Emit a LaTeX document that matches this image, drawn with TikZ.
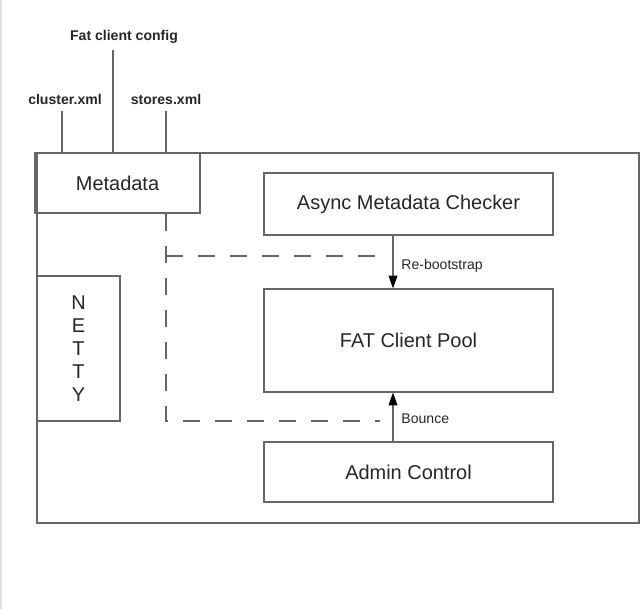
\documentclass[tikz,border=0pt]{standalone}
\usepackage{fontspec}
\setmainfont{Liberation Sans}
\usetikzlibrary{positioning, arrows.meta, calc}

\begin{document}
\begin{tikzpicture}[
    >={Triangle[length=0.32cm, width=0.22cm, color=black, fill=black]},
    every node/.style={text=black!85},
    compbox/.style={draw=black!60, line width=0.8pt, rectangle, inner sep=0pt, align=center, font=\fontsize{14.2}{16.4}\selectfont},
    cfgtxt/.style={align=center, font=\fontsize{10}{12}\selectfont\bfseries},
    lbltxt/.style={font=\fontsize{10}{12}\selectfont},
    wire/.style={draw=black!60, line width=0.8pt},
    ctrlarrow/.style={->, draw=black!60, line width=0.8pt},
    dasharrow/.style={draw=black!60, line width=0.8pt, dash pattern=on 0.425cm off 0.375cm}
]

% fixed page frame
\useasboundingbox (0, 0) rectangle (16, -15.225);
\draw[gray!25, line width=1.5pt] (0.03, 0) -- (0.03, -15.225);

% outer frame
\draw[wire] (0.925, -3.825) rectangle (15.975, -13.075);

% Metadata & config inputs
\node[compbox, minimum width=4.125cm, minimum height=1.5cm] (Meta) at (2.9375, -4.575) {Metadata};
\node[cfgtxt] (fatcfg) at (3.1, -0.925) {Fat client config};
\node[cfgtxt] (clusterxml) at (1.625, -2.475) {cluster.xml};
\node[cfgtxt] (storesxml) at (4.15, -2.475) {stores.xml};
\coordinate (fatx) at (2.825, -1.25);
\coordinate (clux) at (1.55, -2.775);
\coordinate (stox) at (4.15, -2.775);
\draw[wire] (fatx) -- (Meta.north -| fatx);
\draw[wire] (clux) -- (Meta.north -| clux);
\draw[wire] (stox) -- (Meta.north -| stox);

% NETTY
\node[compbox, minimum width=2.075cm, minimum height=3.625cm] (Netty) at (1.9625, -8.7125) {N\\E\\T\\T\\Y};

% Checker, pool & admin
\node[compbox, minimum width=7.225cm, minimum height=1.55cm] (Checker) at (10.2125, -5.1) {Async Metadata Checker};
\node[compbox, minimum width=7.225cm, minimum height=2.575cm] (Pool) at (10.2125, -8.5125) {FAT Client Pool};
\node[compbox, minimum width=7.225cm, minimum height=1.5cm] (Admin) at (10.2125, -11.8) {Admin Control};

\coordinate (arrx) at (9.825, 0);
\draw[ctrlarrow] (Checker.south -| arrx) -- node[midway, right=0.08cm, yshift=-0.1cm, lbltxt] {Re-bootstrap} (Pool.north -| arrx);
\draw[ctrlarrow] (Admin.north -| arrx) -- node[midway, right=0.08cm, yshift=-0.05cm, lbltxt] {Bounce} (Pool.south -| arrx);

% metadata feed (dashed)
\coordinate (dx) at (4.15, 0);
\coordinate (dtop) at (9.5, -6.4);
\coordinate (dbot) at (9.5, -10.525);
\draw[dasharrow] (Meta.south -| dx) -- (dx |- dbot) -- (dbot);
\draw[dasharrow] (dx |- dtop) -- (dtop);

\end{tikzpicture}
\end{document}
